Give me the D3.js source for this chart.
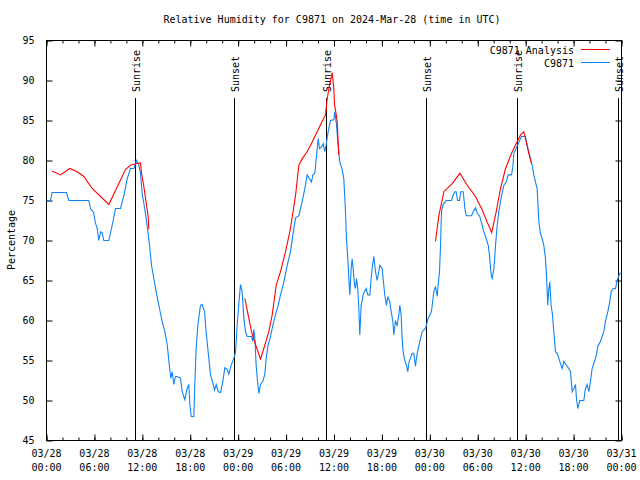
<!DOCTYPE html>
<html>
<head>
<meta charset="utf-8">
<script src="https://cdn.jsdelivr.net/npm/d3@7"></script>
<style>
  html, body { margin: 0; padding: 0; background: #fff; }
  svg { display: block; }
  text { font-family: "DejaVu Sans Mono", "Liberation Mono", monospace; font-size: 10px; fill: #000; }
</style>
</head>
<body>
<svg id="chart" width="640" height="480"></svg>
<script>
// ---------- data ----------
const titleText = "Relative Humidity for C9871 on 2024-Mar-28 (time in UTC)";
const yLabelText = "Percentage";
const seriesNames = ["C9871 Analysis", "C9871"];

const xTickHours = [0, 6, 12, 18, 24, 30, 36, 42, 48, 54, 60, 66, 72];
const xTickDates = ["03/28","03/28","03/28","03/28","03/29","03/29","03/29","03/29","03/30","03/30","03/30","03/30","03/31"];
const xTickTimes = ["00:00","06:00","12:00","18:00","00:00","06:00","12:00","18:00","00:00","06:00","12:00","18:00","00:00"];
const yTicks = [45, 50, 55, 60, 65, 70, 75, 80, 85, 90, 95];

const eventHours = [11.05, 23.5, 34.98, 47.5, 58.93, 71.5];
const eventNames = ["Sunrise", "Sunset", "Sunrise", "Sunset", "Sunrise", "Sunset"];

// observations (hours since 03/28 00:00 UTC, %)
const obsHours = [0.0,0.5,0.7,2.5,2.8,4.6,5.3,5.5,5.9,6.1,6.35,6.56,6.77,6.97,7.18,7.81,8.02,8.35,8.64,9.27,9.69,10.1,10.52,10.94,11.27,11.57,11.77,11.98,12.31,12.6,12.9,13.15,13.44,13.73,14.15,14.48,14.82,15.11,15.4,15.57,15.74,15.94,16.15,16.36,16.78,16.99,17.32,17.61,17.82,17.95,18.12,18.45,18.57,18.74,18.95,19.28,19.49,19.79,19.99,20.24,20.54,20.83,21.04,21.25,21.5,21.79,22.08,22.33,22.62,22.83,23.08,23.46,23.67,23.88,24.08,24.29,24.5,24.71,24.92,25.13,25.67,25.84,25.96,26.09,26.25,26.46,26.59,26.8,27.09,27.34,27.51,27.76,28.05,28.34,28.68,29.01,29.3,29.72,30.14,30.55,30.85,31.18,31.6,32.0,32.35,32.64,32.93,33.18,33.35,33.6,33.81,34.02,34.19,34.44,34.64,34.85,35.02,35.27,35.56,35.98,36.1,36.31,36.48,36.73,37.02,37.23,37.44,37.56,37.73,37.86,37.98,38.15,38.27,38.4,38.57,38.69,38.82,38.98,39.11,39.23,39.4,39.65,39.82,40.03,40.23,40.49,40.65,40.82,40.99,41.2,41.4,41.61,41.74,42.03,42.15,42.36,42.57,42.74,42.99,43.16,43.37,43.49,43.7,43.91,44.12,44.24,44.41,44.53,44.66,44.83,45.08,45.24,45.41,45.58,45.79,45.99,46.2,46.33,46.5,46.75,47.04,47.46,47.79,48.2,48.5,48.71,48.92,49.04,49.21,49.34,49.46,49.63,49.88,50.05,50.72,50.88,51.13,51.3,51.47,51.72,51.88,52.18,52.39,52.55,53.22,53.43,53.72,53.93,54.22,54.47,54.76,55.06,55.31,55.47,55.6,55.72,55.81,56.02,56.23,56.43,56.64,56.98,57.27,57.56,57.81,58.23,58.4,58.52,58.81,59.15,59.48,59.98,60.18,60.39,60.6,60.81,61.02,61.23,61.44,61.65,61.85,62.06,62.27,62.48,62.6,62.77,62.9,63.02,63.19,63.36,63.52,63.73,63.94,64.15,64.36,64.57,64.78,65.11,65.4,65.61,65.82,66.03,66.24,66.36,66.53,66.78,67.28,67.49,67.7,67.91,68.12,68.32,68.62,68.87,69.03,69.28,69.58,69.79,69.99,70.29,70.54,70.7,70.95,71.25,71.45,71.79,72.0];
const obsValues = [75,75,76,76,75,75,75,74,73.5,72.3,71.5,70,71.1,71,70,70,71,72.5,74,74,75.6,77.7,79,79,80,79.4,78.4,75.9,73.9,71.9,69.4,66.9,65.25,63.6,61.5,59.9,58.6,57,54.2,52.8,53.6,52,53,53,52.8,51.1,50.1,51.5,52,49.5,48,48,52,56.5,59.4,61.9,62,61.1,58.6,56.1,53.2,52.2,51.3,52,51.1,51,52.4,54.1,53.9,53.3,54.3,55.3,56,59.5,62,64.5,63.6,60.3,58.6,58,58,57.4,58.9,57.8,54.4,52,50.9,52,52.4,53.3,55.3,57,58,59.4,60.7,61.9,63.2,64.8,66.9,68.6,70.7,72.8,73.1,74.8,76.5,78.2,77.7,77.3,78.2,78.4,80.6,82.75,81.5,81.7,82.1,81.1,82,83.6,85,85.1,86.1,84.5,82.3,79.75,78.9,77.7,73.6,70.2,67.7,65.25,63.2,66.5,67.7,66.5,64.4,64,65.25,64,61.5,58.2,61.9,63.2,63.6,64,63.2,63.2,65.25,66.9,68,66.1,65,66.1,66.9,66.5,65.25,63.2,61.9,63,62.3,61.1,59.9,58.2,59.9,59.4,60.7,61.9,60.7,57.8,56.1,55.1,54.4,53.6,54.9,55.3,55.9,55.9,54.3,55.3,56.3,57.4,58.6,59,60.25,61.1,63.6,64.25,63,64.4,66.1,69.4,73.6,74.4,74.8,75,75,75.6,76.1,76.1,75,75,76.1,76.1,74,73.1,73.1,73.6,74.1,73.4,73.1,72.2,71.1,70.25,69.4,68.2,66.5,65.5,65.25,66.5,69.4,71.9,73.6,75.6,76.9,77.3,78.2,78.2,79.25,80.9,81.5,82.3,83,83,81.9,81.1,80.25,79.4,78.2,77.3,76.5,72.3,70.9,70.25,69.4,67.75,65.7,61.9,64,64.8,61.9,60.7,58.6,56.1,55.9,55.3,54.6,54,54.9,54.4,54,53.6,51.1,51.5,52,50.25,49,50,50,51.5,52,51.1,52.4,54,54.9,55.7,56.8,57.2,58,58.6,59.9,61.1,62.4,63.6,64,64,65,65.9,66];

// analysis (null = gap)
const anaHours = [0.7,1.76,2.93,3.84,4.68,5.72,7.81,9.9,10.52,11.15,11.77,11.9,12.19,12.48,12.73,12.82,
  18.0,
  24.84,25.25,25.67,26.17,26.8,27.21,27.84,28.26,28.76,29.3,29.93,30.55,31.18,31.6,32.0,32.64,33.27,33.89,34.52,34.94,35.15,35.44,35.77,35.98,36.06,36.19,36.39,36.6,
  42.0,
  48.71,49.13,49.76,50.8,51.76,52.68,53.72,54.56,55.18,55.75,56.31,56.85,57.48,58.23,58.73,59.36,59.77,60.18,60.39,60.73];
const anaValues = [78.7,78.2,79.0,78.6,78.0,76.5,74.5,78.9,79.4,79.6,79.7,78.4,76.75,74.7,73.0,71.4,
  null,
  62.75,60.7,58.6,57,55.2,56.5,58.6,60.7,64.4,66.1,68.6,71.5,75.6,79.4,80.2,81.1,82.3,83.6,84.9,85.7,87.75,89.4,91,89,87,86.3,85,80.7,
  null,
  69.9,73.1,76.1,77.1,78.4,76.9,75.5,73.8,72.3,71.0,73.6,76.5,79,80.9,81.9,83.2,83.6,81.9,80.9,79.6];

// ---------- drawing ----------
const svg = d3.select("#chart");
const L = 46.5, R = 621.5, T = 40.5, B = 440.5;
const x = d3.scaleLinear().domain([0, 72]).range([L, R]);
const y = d3.scaleLinear().domain([45, 95]).range([B, T]);

const blue = "#0f84f5", red = "#ff0000";

// title
svg.append("text").attr("x", 332).attr("y", 23).attr("text-anchor", "middle").text(titleText);
// y label
svg.append("text").attr("transform", "translate(15,240) rotate(-90)").attr("text-anchor", "middle").text(yLabelText);

// axes (ticks inward)
const minorHours = d3.range(0, 73, 2);
svg.append("g").attr("transform", `translate(0,${B})`)
  .call(d3.axisBottom(x).tickValues(minorHours).tickSize(-3).tickFormat(""))
  .call(g => g.select(".domain").remove());
svg.append("g").attr("transform", `translate(0,${T})`)
  .call(d3.axisTop(x).tickValues(minorHours).tickSize(-3).tickFormat(""))
  .call(g => g.select(".domain").remove());
svg.append("g").attr("transform", `translate(0,${B})`)
  .call(d3.axisBottom(x).tickValues(xTickHours).tickSize(-6).tickFormat(""))
  .call(g => g.select(".domain").remove());
svg.append("g").attr("transform", `translate(0,${T})`)
  .call(d3.axisTop(x).tickValues(xTickHours).tickSize(-6).tickFormat(""))
  .call(g => g.select(".domain").remove());

const lab = svg.append("g");
xTickHours.forEach((h, i) => {
  lab.append("text").attr("x", x(h)).attr("y", 457).attr("text-anchor", "middle").text(xTickDates[i]);
  lab.append("text").attr("x", x(h)).attr("y", 471).attr("text-anchor", "middle").text(xTickTimes[i]);
});

svg.append("g").attr("transform", `translate(${L},0)`)
  .call(d3.axisLeft(y).tickValues(yTicks).tickSize(-6).tickPadding(12).tickFormat(d3.format("d")))
  .call(g => g.select(".domain").remove())
  .call(g => g.selectAll("text").style("font-family", "DejaVu Sans Mono").style("font-size", "10px").attr("fill", "#000"));
svg.append("g").attr("transform", `translate(${R},0)`)
  .call(d3.axisRight(y).tickValues(yTicks).tickSize(-6).tickFormat(""))
  .call(g => g.select(".domain").remove());

svg.selectAll(".tick line").attr("stroke", "#000");
svg.selectAll("g").attr("font-family", null).attr("font-size", null);

// frame
svg.append("rect").attr("x", L).attr("y", T).attr("width", R - L).attr("height", B - T)
  .attr("fill", "none").attr("stroke", "#000");

// sunrise/sunset
const ev = svg.append("g");
eventHours.forEach((h, i) => {
  const xx = Math.round(x(h)) + 0.5;
  ev.append("line").attr("x1", xx).attr("x2", xx).attr("y1", 98).attr("y2", B).attr("stroke", "#000");
  ev.append("text").attr("transform", `translate(${xx + 4},92) rotate(-90)`).attr("text-anchor", "start").text(eventNames[i]);
});

// lines
const obs = obsHours.map((h, i) => [h, obsValues[i]]);
const ana = anaHours.map((h, i) => [h, anaValues[i]]);
const line = d3.line().defined(d => d[1] !== null).x(d => x(d[0])).y(d => y(d[1]));

svg.append("path").datum(obs).attr("d", line).attr("fill", "none").attr("stroke", blue).attr("stroke-width", 1.1);
svg.append("path").datum(ana).attr("d", line).attr("fill", "none").attr("stroke", red).attr("stroke-width", 1.1);

// legend
const lg = svg.append("g");
lg.append("text").attr("x", 574).attr("y", 54).attr("text-anchor", "end").text(seriesNames[0]);
lg.append("line").attr("x1", 581).attr("x2", 610).attr("y1", 49.5).attr("y2", 49.5).attr("stroke", red);
lg.append("text").attr("x", 574).attr("y", 67).attr("text-anchor", "end").text(seriesNames[1]);
lg.append("line").attr("x1", 581).attr("x2", 610).attr("y1", 62.5).attr("y2", 62.5).attr("stroke", blue);
</script>
</body>
</html>
